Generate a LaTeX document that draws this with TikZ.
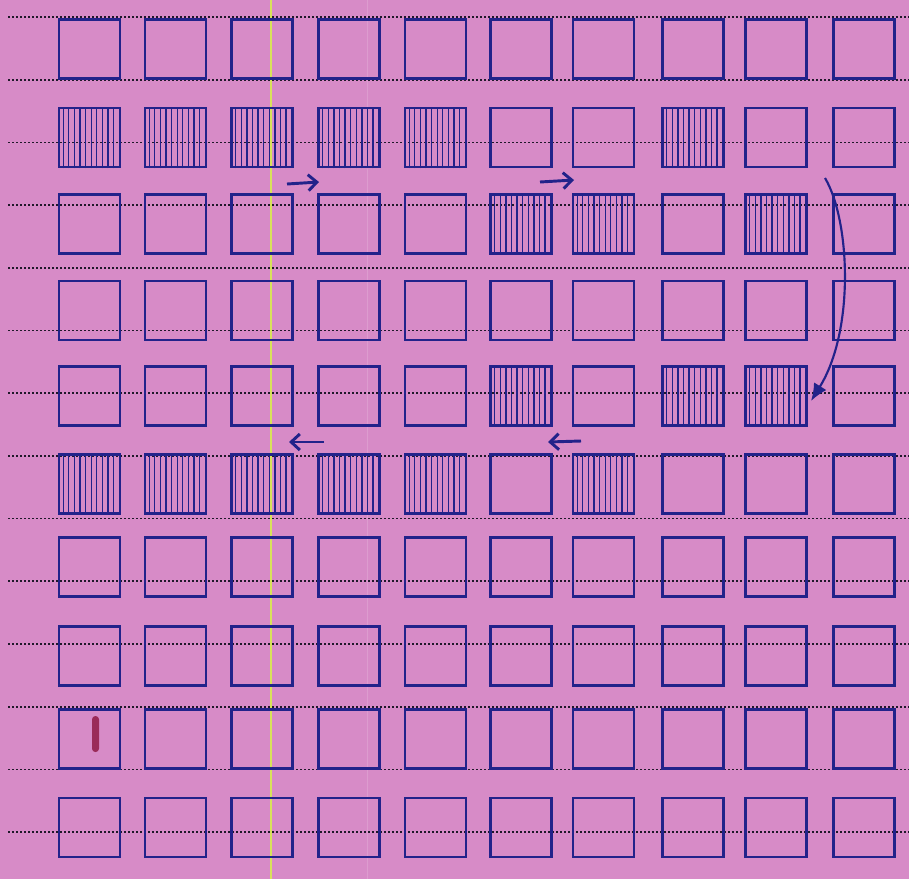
\documentclass[tikz,border=0pt]{standalone}
\usepackage{tikz}
\usetikzlibrary{arrows.meta}
\definecolor{PaperPink}{HTML}{D78BC7}
\definecolor{InkBlue}{HTML}{22228A}
\definecolor{RuleDark}{HTML}{20182A}
\definecolor{MarginYellow}{HTML}{D8E25A}
\definecolor{SmudgeRed}{HTML}{9A2A58}
\tikzset{
  cell/.style={rectangle,draw=InkBlue,line width=1.9pt,minimum width=46pt,minimum height=44.5pt,inner sep=0pt},
  hatched/.style={path picture={
      \foreach \i in {1,...,10}
        \draw[InkBlue,line width=0.95pt]
          ([xshift=\i*4.2pt]path picture bounding box.south west) --
          ([xshift=\i*4.2pt]path picture bounding box.north west);}},
  rule/.style={RuleDark,line width=1.3pt,dash pattern=on 1.6pt off 1.4pt},
  arrowr/.style={-{Straight Barb[length=6.5pt,width=12pt]},line width=2.2pt,color=InkBlue},
  arrowc/.style={-{Latex[length=13pt,width=11pt]},line width=1.6pt,color=InkBlue},
}

\begin{document}
\begin{tikzpicture}[x=0.75pt,y=-0.75pt]
  % Paper
  \fill[PaperPink] (0,0) rectangle (909,879);
  \useasboundingbox (0,0) rectangle (909,879);

  % Ruled lines and margin
  \foreach \k in {0,...,13}
    \draw[rule] (8,17+62.7*\k) -- (909,17+62.7*\k);
  \draw[MarginYellow,line width=1.1pt] (271,0) -- (271,879);
  \draw[PaperPink!85!white,line width=0.6pt] (367,0) -- (367,879);

  % Grid of cells
  \foreach \yc [count=\r] in {49,137.5,224,310.5,396,484,567,656,739,827.5} {
    \foreach \xc [count=\c] in {89.5,175.5,262,349,435.5,521,603.5,693,776,864}
      \node[cell] (s-\r-\c) at (\xc,\yc) {};
  }

  % Hatched cells
  \foreach \n in {2-1,2-2,2-3,2-4,2-5,2-8,3-6,3-7,3-9,5-6,5-8,5-9,6-1,6-2,6-3,6-4,6-5,6-7}
    \path[hatched] (s-\n.south west) rectangle (s-\n.north east);

  % Smudge
  \fill[SmudgeRed,rounded corners=2.5pt] (92,716) rectangle (99,752);

  % Arrows
  \coordinate (r1a) at (287,184);
  \coordinate (r1b) at (319,182);
  \coordinate (r2a) at (540,182);
  \coordinate (r2b) at (574,180);
  \coordinate (l1a) at (324,442);
  \coordinate (l1b) at (289,442);
  \coordinate (l2a) at (581,441);
  \coordinate (l2b) at (548,442);
  \coordinate (ca) at (825,178);
  \coordinate (cb) at (811,401);
  \draw[arrowr] (r1a) -- (r1b);
  \draw[arrowr] (r2a) -- (r2b);
  \draw[arrowr] (l1a) -- (l1b);
  \draw[arrowr] (l2a) -- (l2b);
  \draw[arrowc] (ca) .. controls (850,220) and (855,330) .. (cb);
\end{tikzpicture}
\end{document}
